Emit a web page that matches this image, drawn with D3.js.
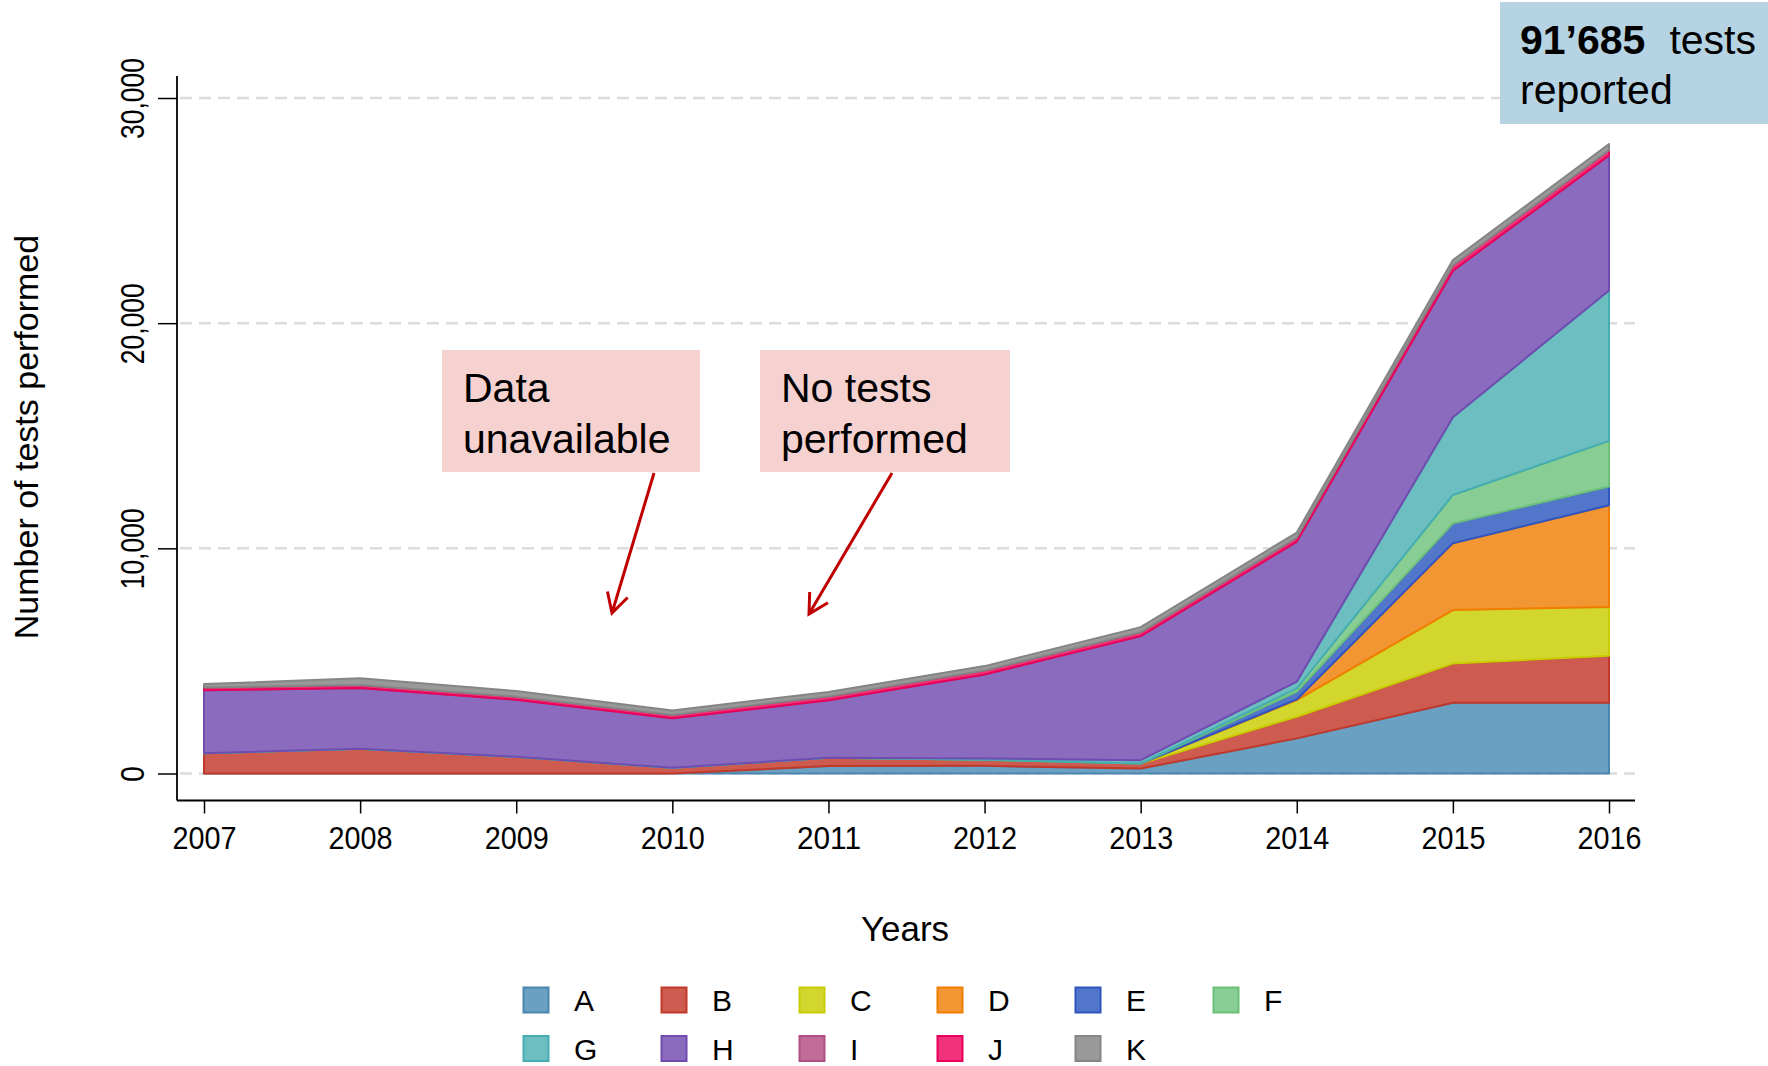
<!DOCTYPE html>
<meta charset="utf-8">
<script src="https://d3js.org/d3.v7.min.js"></script>
<style>
  body { margin: 0; background: #fff; }
  text { font-family: "Liberation Sans", Arial, sans-serif; fill: #000; }
</style>
<div id="chart"></div>
<script>

// ---- data ----
var years = [2007, 2008, 2009, 2010, 2011, 2012, 2013, 2014, 2015, 2016];
var keys  = ["A", "B", "C", "D", "E", "F", "G", "H", "I", "J", "K"];
var A = [0, 0, 0, 0, 330, 340, 220, 1560, 3140, 3140];
var B = [900, 1100, 740, 250, 370, 270, 220, 960, 1740, 2090];
var C = [0, 0, 0, 0, 0, 0, 0, 740, 2380, 2170];
var D = [0, 0, 0, 0, 0, 0, 0, 30, 2970, 4510];
var E = [0, 0, 0, 0, 0, 0, 0, 340, 870, 840];
var F = [0, 0, 0, 0, 0, 0, 0, 150, 1270, 2020];
var G = [0, 0, 0, 0, 0, 60, 150, 300, 3450, 6680];
var H = [2800, 2700, 2540, 2200, 2550, 3730, 5510, 6220, 6510, 6000];
var I = [0, 0, 0, 0, 0, 0, 0, 0, 0, 0];
var J = [120, 130, 130, 150, 170, 170, 170, 170, 230, 230];
var K = [150, 300, 250, 200, 200, 200, 230, 230, 240, 280];
var yTicks = [0, 10000, 20000, 30000];

var fills   = ["#6aa0c1", "#cd5b4f", "#d3d62d", "#f29633", "#5276c9", "#88cd93",
               "#6cbec1", "#8a6bbe", "#c06c96", "#f2337b", "#999999"];
var strokes = ["#4a86ae", "#c0392b", "#c8cc00", "#f07d00", "#2f55c0", "#6cc07a",
               "#46adb1", "#6f4cb0", "#b04f82", "#e8005a", "#858585"];

var seriesByKey = {A: A, B: B, C: C, D: D, E: E, F: F, G: G, H: H, I: I, J: J, K: K};
var table = years.map(function(yr, i) {
  var row = {year: yr};
  keys.forEach(function(k) { row[k] = seriesByKey[k][i]; });
  return row;
});

var width = 1768, height = 1066;
var svg = d3.select("#chart").append("svg")
    .attr("width", width)
    .attr("height", height);

// scales
var x = d3.scaleLinear().domain([2007, 2016]).range([204, 1609]);
var y = d3.scaleLinear().domain([0, 30000]).range([773.5, 98]);
var axisX = 177, axisY = 800.5, axisRight = 1635;

// grid lines
svg.append("g")
  .selectAll("line")
  .data(yTicks)
  .enter()
  .append("line")
    .attr("x1", axisX + 3)
    .attr("x2", axisRight)
    .attr("y1", function(d) { return y(d); })
    .attr("y2", function(d) { return y(d); })
    .attr("stroke", "#dcdcdc")
    .attr("stroke-width", 2.5)
    .attr("stroke-dasharray", "12,7");

// stacked areas, each outlined in a darker shade (later layers cover earlier borders)
var stack = d3.stack().keys(keys);
var layers = stack(table);

var area = d3.area()
    .x(function(d) { return x(d.data.year); })
    .y0(function(d) { return y(d[0]); })
    .y1(function(d) { return y(d[1]); });

svg.append("g")
  .selectAll("path")
  .data(layers)
  .enter()
  .append("path")
    .attr("d", area)
    .attr("fill", function(d, i) { return fills[i]; })
    .attr("stroke", function(d, i) { return strokes[i]; })
    .attr("stroke-width", 2)
    .attr("stroke-linejoin", "round");

// axes
var gy = svg.append("g")
    .attr("transform", "translate(" + axisX + ",0)")
    .call(d3.axisLeft(y).tickValues(yTicks).tickFormat(d3.format(",")).tickSize(19));
gy.select(".domain").remove();
gy.selectAll("line").attr("stroke", "#000").attr("stroke-width", 1.5);
gy.selectAll("text")
    .attr("x", null).attr("dy", null)
    .attr("transform", "translate(-33,0) rotate(-90)")
    .attr("text-anchor", "middle")
    .attr("textLength", function(d) { return d === 0 ? 16 : 81; })
    .attr("lengthAdjust", "spacingAndGlyphs")
    .style("font-size", "33px")
    .style("font-family", "'Liberation Sans', Arial, sans-serif")
    .attr("fill", "#000");

var gx = svg.append("g")
    .attr("transform", "translate(0," + axisY + ")")
    .call(d3.axisBottom(x).tickValues(years).tickFormat(d3.format("d")).tickSize(13));
gx.select(".domain").remove();
gx.selectAll("line").attr("stroke", "#000").attr("stroke-width", 1.5);
gx.selectAll("text")
    .attr("y", 48).attr("dy", null)
    .attr("textLength", 64)
    .attr("lengthAdjust", "spacingAndGlyphs")
    .style("font-size", "31px")
    .style("font-family", "'Liberation Sans', Arial, sans-serif")
    .attr("fill", "#000");

// axis lines
svg.append("line")
    .attr("x1", axisX).attr("x2", axisX)
    .attr("y1", 76).attr("y2", axisY)
    .attr("stroke", "#000").attr("stroke-width", 1.8);
svg.append("line")
    .attr("x1", axisX).attr("x2", axisRight)
    .attr("y1", axisY).attr("y2", axisY)
    .attr("stroke", "#000").attr("stroke-width", 1.8);

// axis titles
svg.append("text")
    .attr("transform", "translate(38,437) rotate(-90)")
    .attr("text-anchor", "middle")
    .style("font-size", "34px")
    .text("Number of tests performed");

svg.append("text")
    .attr("x", 905)
    .attr("y", 941)
    .attr("text-anchor", "middle")
    .style("font-size", "35px")
    .text("Years");

// legend
var legend = svg.append("g");
var legItems = legend.selectAll("g")
  .data(keys)
  .enter()
  .append("g")
    .attr("transform", function(d, i) {
      var col = i % 6, row = Math.floor(i / 6);
      return "translate(" + (536 + col * 138) + "," + (1000 + row * 48.5) + ")";
    });
legItems.append("rect")
    .attr("x", -12.5).attr("y", -12.5)
    .attr("width", 25).attr("height", 25)
    .attr("fill", function(d, i) { return fills[i]; })
    .attr("stroke", function(d, i) { return strokes[i]; })
    .attr("stroke-width", 2);
legItems.append("text")
    .attr("x", 38)
    .attr("y", 11)
    .style("font-size", "30px")
    .text(function(d) { return d; });

// annotation boxes
var notes = [
  {x: 442, y: 350, w: 258, h: 122, lines: ["Data", "unavailable"], ax1: 654, ay1: 473, ax2: 612, ay2: 613},
  {x: 760, y: 350, w: 250, h: 122, lines: ["No tests", "performed"], ax1: 892, ay1: 473, ax2: 809, ay2: 614}
];
notes.forEach(function(n) {
  svg.append("rect")
      .attr("x", n.x).attr("y", n.y)
      .attr("width", n.w).attr("height", n.h)
      .attr("fill", "#f5d1d0");
  n.lines.forEach(function(t, i) {
    svg.append("text")
        .attr("x", n.x + 21)
        .attr("y", n.y + 52 + i * 51)
        .style("font-size", "41px")
        .text(t);
  });
  var ang = Math.atan2(n.ay2 - n.ay1, n.ax2 - n.ax1);
  var len = 22, spread = 0.5;
  var p1 = [n.ax2 - len * Math.cos(ang - spread), n.ay2 - len * Math.sin(ang - spread)];
  var p2 = [n.ax2 - len * Math.cos(ang + spread), n.ay2 - len * Math.sin(ang + spread)];
  svg.append("path")
      .attr("d", "M" + n.ax1 + "," + n.ay1 + "L" + n.ax2 + "," + n.ay2 +
                 "M" + p1[0] + "," + p1[1] + "L" + n.ax2 + "," + n.ay2 + "L" + p2[0] + "," + p2[1])
      .attr("fill", "none")
      .attr("stroke", "#c00000")
      .attr("stroke-width", 3);
});

// total box
svg.append("rect")
    .attr("x", 1500).attr("y", 2)
    .attr("width", 268).attr("height", 122)
    .attr("fill", "#b5d3e2");
var t1 = svg.append("text")
    .attr("x", 1520)
    .attr("y", 54)
    .style("font-size", "41px");
t1.append("tspan").style("font-weight", "bold").text("91\u2019685");
t1.append("tspan").attr("dx", 24).text("tests");
svg.append("text")
    .attr("x", 1520)
    .attr("y", 104)
    .style("font-size", "41px")
    .text("reported");

</script>
